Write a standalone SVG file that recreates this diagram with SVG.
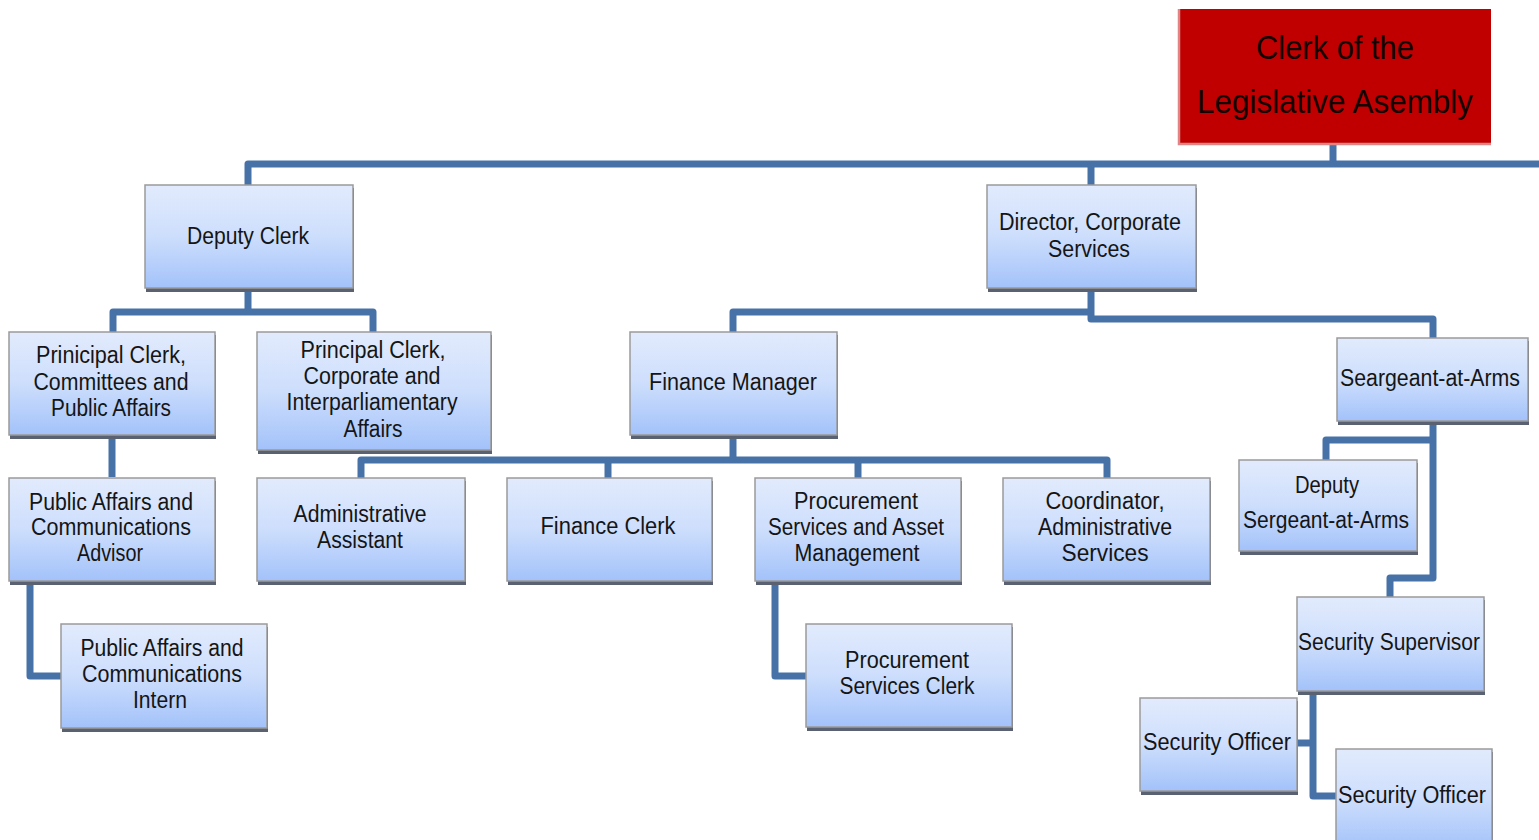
<svg xmlns="http://www.w3.org/2000/svg" width="1539" height="840" viewBox="0 0 1539 840">
<defs>
<linearGradient id="bg" x1="0" y1="0" x2="0" y2="1">
<stop offset="0" stop-color="#e2ebfd"/>
<stop offset="0.5" stop-color="#cddefc"/>
<stop offset="1" stop-color="#a3c2fa"/>
</linearGradient>
<style>
.sh{fill:#5a6170;}
.bx{fill:url(#bg);stroke:#9a9a9a;stroke-width:1.5;}
.t{font-family:"Liberation Sans",Arial,sans-serif;font-size:23px;fill:#151515;text-anchor:middle;}
.ts{font-family:"Liberation Sans",Arial,sans-serif;font-size:23px;fill:#151515;text-anchor:start;}
.tc{font-family:"Liberation Sans",Arial,sans-serif;font-size:34px;fill:#150000;text-anchor:middle;}
.c{fill:none;stroke:#4672a8;stroke-width:7;stroke-linejoin:round;}
</style>
</defs>
<rect width="1539" height="840" fill="#ffffff"/>

<g id="connectors">
<path class="c" d="M1333 143 V164 M248 185 V164 H1539 M1091 164 V185"/>
<path class="c" d="M248 292 V312 M113 332 V312 H373 V332"/>
<path class="c" d="M1091 292 V319 H1433 V338 M1091 312 H733 V332"/>
<path class="c" d="M112 439 V477 M30 585 V676 H61"/>
<path class="c" d="M733 439 V460 M361 478 V460 H1107 V478 M608 460 V478 M858 460 V478"/>
<path class="c" d="M775 585 V676 H806"/>
<path class="c" d="M1433 425 V578 H1390 V597 M1433 440 H1326 V460"/>
<path class="c" d="M1313 695 V796 H1336 M1313 743 H1297"/>
</g>

<g id="clerk">
<rect x="1178" y="9" width="313" height="135" fill="#c00000"/>
<path d="M1179 9 V144 H1491" fill="none" stroke="#e08585" stroke-width="2.5"/>
<text class="tc" x="1335" y="59" textLength="158" lengthAdjust="spacingAndGlyphs">Clerk of the</text>
<text class="tc" x="1335" y="113" textLength="276" lengthAdjust="spacingAndGlyphs">Legislative Asembly</text>
</g>

<g id="deputy-clerk">
<rect class="sh" x="146" y="188" width="208" height="104"/>
<rect class="bx" x="145" y="185" width="208" height="103"/>
<text class="t" x="248" y="244" textLength="122" lengthAdjust="spacingAndGlyphs">Deputy Clerk</text>
</g>

<g id="director">
<rect class="sh" x="988" y="188" width="209" height="104"/>
<rect class="bx" x="987" y="185" width="209" height="103"/>
<text class="t" x="1090" y="230" textLength="182" lengthAdjust="spacingAndGlyphs">Director, Corporate</text>
<text class="t" x="1089" y="257" textLength="82" lengthAdjust="spacingAndGlyphs">Services</text>
</g>

<g id="pc-committees">
<rect class="sh" x="10" y="335" width="206" height="104"/>
<rect class="bx" x="9" y="332" width="206" height="103"/>
<text class="t" x="111" y="363" textLength="150" lengthAdjust="spacingAndGlyphs">Prinicipal Clerk,</text>
<text class="t" x="111" y="390" textLength="155" lengthAdjust="spacingAndGlyphs">Committees and</text>
<text class="t" x="111" y="416" textLength="120" lengthAdjust="spacingAndGlyphs">Public Affairs</text>
</g>

<g id="pc-corporate">
<rect class="sh" x="258" y="335" width="234" height="119"/>
<rect class="bx" x="257" y="332" width="234" height="118"/>
<text class="t" x="373" y="358" textLength="145" lengthAdjust="spacingAndGlyphs">Principal Clerk,</text>
<text class="t" x="372" y="384" textLength="137" lengthAdjust="spacingAndGlyphs">Corporate and</text>
<text class="t" x="372" y="410" textLength="171" lengthAdjust="spacingAndGlyphs">Interparliamentary</text>
<text class="t" x="373" y="437" textLength="59" lengthAdjust="spacingAndGlyphs">Affairs</text>
</g>

<g id="finance-manager">
<rect class="sh" x="631" y="335" width="207" height="104"/>
<rect class="bx" x="630" y="332" width="207" height="103"/>
<text class="t" x="733" y="390" textLength="168" lengthAdjust="spacingAndGlyphs">Finance Manager</text>
</g>

<g id="seargeant">
<rect class="sh" x="1338" y="341" width="191" height="84"/>
<rect class="bx" x="1337" y="338" width="191" height="83"/>
<text class="ts" x="1340" y="386" textLength="180" lengthAdjust="spacingAndGlyphs">Seargeant-at-Arms</text>
</g>

<g id="pa-advisor">
<rect class="sh" x="10" y="481" width="206" height="104"/>
<rect class="bx" x="9" y="478" width="206" height="103"/>
<text class="t" x="111" y="510" textLength="164" lengthAdjust="spacingAndGlyphs">Public Affairs and</text>
<text class="t" x="111" y="535" textLength="160" lengthAdjust="spacingAndGlyphs">Communications</text>
<text class="t" x="110" y="561" textLength="66" lengthAdjust="spacingAndGlyphs">Advisor</text>
</g>

<g id="admin-assistant">
<rect class="sh" x="258" y="481" width="208" height="104"/>
<rect class="bx" x="257" y="478" width="208" height="103"/>
<text class="t" x="360" y="522" textLength="133" lengthAdjust="spacingAndGlyphs">Administrative</text>
<text class="t" x="360" y="548" textLength="86" lengthAdjust="spacingAndGlyphs">Assistant</text>
</g>

<g id="finance-clerk">
<rect class="sh" x="508" y="481" width="205" height="104"/>
<rect class="bx" x="507" y="478" width="205" height="103"/>
<text class="t" x="608" y="534" textLength="135" lengthAdjust="spacingAndGlyphs">Finance Clerk</text>
</g>

<g id="procurement-sam">
<rect class="sh" x="756" y="481" width="206" height="104"/>
<rect class="bx" x="755" y="478" width="206" height="103"/>
<text class="t" x="856" y="509" textLength="124" lengthAdjust="spacingAndGlyphs">Procurement</text>
<text class="t" x="856" y="535" textLength="176" lengthAdjust="spacingAndGlyphs">Services and Asset</text>
<text class="t" x="857" y="561" textLength="125" lengthAdjust="spacingAndGlyphs">Management</text>
</g>

<g id="coordinator">
<rect class="sh" x="1004" y="481" width="207" height="104"/>
<rect class="bx" x="1003" y="478" width="207" height="103"/>
<text class="t" x="1105" y="509" textLength="119" lengthAdjust="spacingAndGlyphs">Coordinator,</text>
<text class="t" x="1105" y="535" textLength="134" lengthAdjust="spacingAndGlyphs">Administrative</text>
<text class="t" x="1105" y="561" textLength="87" lengthAdjust="spacingAndGlyphs">Services</text>
</g>

<g id="deputy-sergeant">
<rect class="sh" x="1240" y="463" width="178" height="92"/>
<rect class="bx" x="1239" y="460" width="178" height="91"/>
<text class="t" x="1327" y="493" textLength="64" lengthAdjust="spacingAndGlyphs">Deputy</text>
<text class="t" x="1326" y="528" textLength="166" lengthAdjust="spacingAndGlyphs">Sergeant-at-Arms</text>
</g>

<g id="pa-intern">
<rect class="sh" x="62" y="627" width="206" height="105"/>
<rect class="bx" x="61" y="624" width="206" height="104"/>
<text class="t" x="162" y="656" textLength="163" lengthAdjust="spacingAndGlyphs">Public Affairs and</text>
<text class="t" x="162" y="682" textLength="160" lengthAdjust="spacingAndGlyphs">Communications</text>
<text class="t" x="160" y="708" textLength="54" lengthAdjust="spacingAndGlyphs">Intern</text>
</g>

<g id="procurement-clerk">
<rect class="sh" x="807" y="627" width="206" height="104"/>
<rect class="bx" x="806" y="624" width="206" height="103"/>
<text class="t" x="907" y="668" textLength="124" lengthAdjust="spacingAndGlyphs">Procurement</text>
<text class="t" x="907" y="694" textLength="135" lengthAdjust="spacingAndGlyphs">Services Clerk</text>
</g>

<g id="security-supervisor">
<rect class="sh" x="1298" y="600" width="187" height="95"/>
<rect class="bx" x="1297" y="597" width="187" height="94"/>
<text class="ts" x="1298" y="650" textLength="182" lengthAdjust="spacingAndGlyphs">Security Supervisor</text>
</g>

<g id="security-officer-1">
<rect class="sh" x="1141" y="701" width="157" height="94"/>
<rect class="bx" x="1140" y="698" width="157" height="93"/>
<text class="ts" x="1143" y="750" textLength="148" lengthAdjust="spacingAndGlyphs">Security Officer</text>
</g>

<g id="security-officer-2">
<rect class="sh" x="1337" y="752" width="156" height="100"/>
<rect class="bx" x="1336" y="749" width="156" height="100"/>
<text class="ts" x="1338" y="803" textLength="148" lengthAdjust="spacingAndGlyphs">Security Officer</text>
</g>
</svg>
